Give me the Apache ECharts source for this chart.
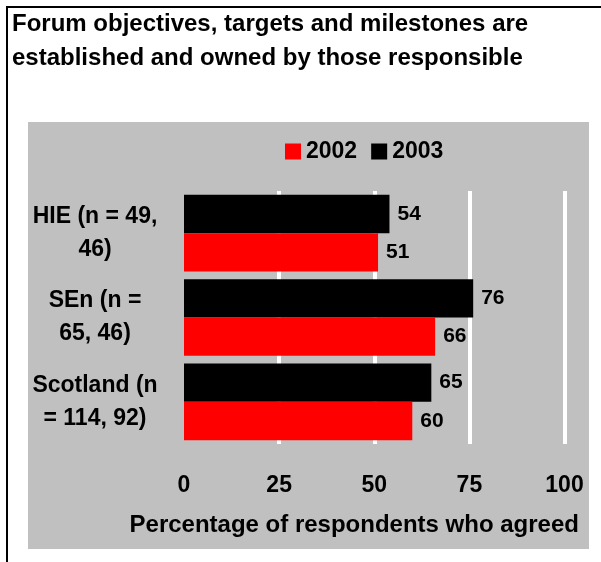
<!DOCTYPE html>
<html>
<head>
    <meta charset="utf-8">
    <title>ECharts</title>
    <script src="https://cdn.jsdelivr.net/npm/echarts/dist/echarts.min.js"></script>
    <style>
        html, body { margin: 0; padding: 0; background: #fff; }
    </style>
</head>
<body>
    <div id="main" style="width: 601px;height:562px;"></div>
    <script>
        // bottom to top on the category axis
        var categories = ['Scotland (n\n= 114, 92)', 'SEn (n =\n65, 46)', 'HIE (n = 49,\n46)'];
        var values2002 = [60, 66, 51];
        var values2003 = [65, 76, 54];
        var xTicks = [0, 25, 50, 75, 100];

        var FONT = '"Liberation Sans", Arial, sans-serif';

        var chartDom = document.getElementById('main');
        var myChart = echarts.init(chartDom);
        var option;

        var valueLabel = {
            show: true,
            position: 'right',
            distance: 8,
            fontFamily: FONT,
            fontSize: 21,
            fontWeight: 'bold',
            color: '#000'
        };

        option = {
            animation: false,
            backgroundColor: '#fff',
            textStyle: { fontFamily: FONT },
            title: {
                text: 'Forum objectives, targets and milestones are\nestablished and owned by those responsible',
                left: 12,
                top: 7,
                padding: 0,
                textStyle: {
                    fontFamily: FONT,
                    fontSize: 24,
                    fontWeight: 'bold',
                    color: '#000',
                    lineHeight: 34
                }
            },
            graphic: [
                {
                    type: 'rect',
                    z: -10,
                    shape: { x: 28, y: 122, width: 561, height: 427 },
                    style: { fill: '#c0c0c0' }
                },
                {
                    type: 'line',
                    shape: { x1: 6, y1: 7, x2: 601, y2: 7 },
                    style: { stroke: '#000', lineWidth: 2 }
                },
                {
                    type: 'line',
                    shape: { x1: 7, y1: 6, x2: 7, y2: 562 },
                    style: { stroke: '#000', lineWidth: 2 }
                }
            ],
            legend: {
                data: ['2002', '2003'],
                left: 285,
                top: 140,
                padding: 0,
                itemWidth: 16,
                itemHeight: 16,
                itemGap: 14,
                icon: 'rect',
                textStyle: {
                    fontFamily: FONT,
                    fontSize: 23,
                    fontWeight: 'bold',
                    color: '#000'
                }
            },
            grid: {
                left: 184,
                right: 36.5,
                top: 191,
                bottom: 118
            },
            xAxis: {
                type: 'value',
                min: 0,
                max: 100,
                interval: 25,
                name: 'Percentage of respondents who agreed',
                nameLocation: 'middle',
                nameGap: 69,
                nameTextStyle: {
                    fontFamily: FONT,
                    fontSize: 24,
                    fontWeight: 'bold',
                    color: '#000',
                    padding: [0, 40, 0, 0]
                },
                axisLine: { show: false },
                axisTick: { show: false },
                axisLabel: {
                    margin: 30,
                    fontFamily: FONT,
                    fontSize: 23,
                    fontWeight: 'bold',
                    color: '#000',
                    formatter: function (v) {
                        return xTicks.indexOf(v) >= 0 ? String(v) : '';
                    }
                },
                splitLine: {
                    show: true,
                    showMinLine: false,
                    lineStyle: { color: '#fff', width: 4 }
                }
            },
            yAxis: {
                type: 'category',
                data: categories,
                axisLine: { show: false },
                axisTick: { show: false },
                axisLabel: {
                    align: 'center',
                    margin: 89,
                    fontFamily: FONT,
                    fontSize: 23,
                    fontWeight: 'bold',
                    color: '#000',
                    lineHeight: 33
                }
            },
            // 2003 listed first so it sits above 2002 in each group
            series: [
                {
                    name: '2003',
                    type: 'bar',
                    data: values2003,
                    barGap: '0%',
                    barCategoryGap: '9%',
                    itemStyle: { color: '#000000' },
                    label: valueLabel
                },
                {
                    name: '2002',
                    type: 'bar',
                    data: values2002,
                    barGap: '0%',
                    barCategoryGap: '9%',
                    itemStyle: { color: '#ff0000' },
                    label: valueLabel
                }
            ]
        };

        option && myChart.setOption(option);
    </script>
</body>
</html>
